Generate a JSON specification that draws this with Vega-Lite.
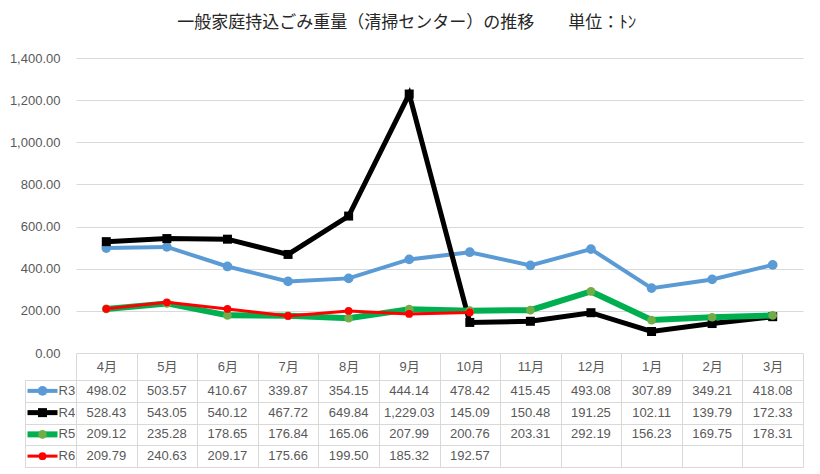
{
  "$schema": "https://vega.github.io/schema/vega-lite/v6.json",
  "padding": {"left": 9, "top": 14, "right": 5, "bottom": 5},
  "background": "white",
  "title": {
    "text": "一般家庭持込ごみ重量（清掃センター）の推移　　単位：ﾄﾝ",
    "font": "Noto Sans CJK JP",
    "fontSize": 17,
    "fontWeight": "normal",
    "color": "#262626",
    "anchor": "middle",
    "offset": 20
  },
  "datasets": {
    "values": [
      {"month": "4月", "series": "R3", "value": 498.02},
      {"month": "5月", "series": "R3", "value": 503.57},
      {"month": "6月", "series": "R3", "value": 410.67},
      {"month": "7月", "series": "R3", "value": 339.87},
      {"month": "8月", "series": "R3", "value": 354.15},
      {"month": "9月", "series": "R3", "value": 444.14},
      {"month": "10月", "series": "R3", "value": 478.42},
      {"month": "11月", "series": "R3", "value": 415.45},
      {"month": "12月", "series": "R3", "value": 493.08},
      {"month": "1月", "series": "R3", "value": 307.89},
      {"month": "2月", "series": "R3", "value": 349.21},
      {"month": "3月", "series": "R3", "value": 418.08},
      {"month": "4月", "series": "R4", "value": 528.43},
      {"month": "5月", "series": "R4", "value": 543.05},
      {"month": "6月", "series": "R4", "value": 540.12},
      {"month": "7月", "series": "R4", "value": 467.72},
      {"month": "8月", "series": "R4", "value": 649.84},
      {"month": "9月", "series": "R4", "value": 1229.03},
      {"month": "10月", "series": "R4", "value": 145.09},
      {"month": "11月", "series": "R4", "value": 150.48},
      {"month": "12月", "series": "R4", "value": 191.25},
      {"month": "1月", "series": "R4", "value": 102.11},
      {"month": "2月", "series": "R4", "value": 139.79},
      {"month": "3月", "series": "R4", "value": 172.33},
      {"month": "4月", "series": "R5", "value": 209.12},
      {"month": "5月", "series": "R5", "value": 235.28},
      {"month": "6月", "series": "R5", "value": 178.65},
      {"month": "7月", "series": "R5", "value": 176.84},
      {"month": "8月", "series": "R5", "value": 165.06},
      {"month": "9月", "series": "R5", "value": 207.99},
      {"month": "10月", "series": "R5", "value": 200.76},
      {"month": "11月", "series": "R5", "value": 203.31},
      {"month": "12月", "series": "R5", "value": 292.19},
      {"month": "1月", "series": "R5", "value": 156.23},
      {"month": "2月", "series": "R5", "value": 169.75},
      {"month": "3月", "series": "R5", "value": 178.31},
      {"month": "4月", "series": "R6", "value": 209.79},
      {"month": "5月", "series": "R6", "value": 240.63},
      {"month": "6月", "series": "R6", "value": 209.17},
      {"month": "7月", "series": "R6", "value": 175.66},
      {"month": "8月", "series": "R6", "value": 199.50},
      {"month": "9月", "series": "R6", "value": 185.32},
      {"month": "10月", "series": "R6", "value": 192.57}
    ],
    "series": [
      {"series": "R3"},
      {"series": "R4"},
      {"series": "R5"},
      {"series": "R6"}
    ]
  },
  "columns": 2,
  "align": "each",
  "bounds": "flush",
  "spacing": {"row": 27, "column": 0},
  "concat": [
    {
      "width": 51,
      "height": 295,
      "data": {"name": "series"},
      "mark": {"type": "text", "opacity": 0},
      "encoding": {}
    },
    {
      "width": 727,
      "height": 295,
      "data": {"name": "values"},
      "encoding": {
        "x": {
          "field": "month",
          "type": "nominal",
          "sort": ["4月", "5月", "6月", "7月", "8月", "9月", "10月", "11月", "12月", "1月", "2月", "3月"],
          "axis": null
        },
        "y": {
          "field": "value",
          "type": "quantitative",
          "scale": {"domain": [0, 1400], "nice": false},
          "axis": {
            "values": [0, 200, 400, 600, 800, 1000, 1200, 1400],
            "format": ",.2f",
            "title": null,
            "domain": false,
            "ticks": false,
            "labelPadding": 16,
            "grid": true,
            "gridColor": "#d9d9d9"
          }
        }
      },
      "layer": [
        {"transform": [{"filter": "datum.series === 'R3'"}], "mark": {"type": "line", "color": "#5B9BD5", "strokeWidth": 4}},
        {"transform": [{"filter": "datum.series === 'R3'"}], "mark": {"type": "point", "shape": "circle", "filled": true, "opacity": 1, "color": "#5B9BD5", "size": 95}},
        {"transform": [{"filter": "datum.series === 'R4'"}], "mark": {"type": "line", "color": "#000000", "strokeWidth": 5}},
        {"transform": [{"filter": "datum.series === 'R4'"}], "mark": {"type": "point", "shape": "square", "filled": true, "opacity": 1, "color": "#000000", "size": 81}},
        {"transform": [{"filter": "datum.series === 'R5'"}], "mark": {"type": "line", "color": "#00B050", "strokeWidth": 6}},
        {"transform": [{"filter": "datum.series === 'R5'"}], "mark": {"type": "point", "shape": "circle", "filled": true, "opacity": 1, "color": "#70AD47", "size": 75}},
        {"transform": [{"filter": "datum.series === 'R6'"}], "mark": {"type": "line", "color": "#FF0000", "strokeWidth": 3}},
        {"transform": [{"filter": "datum.series === 'R6'"}], "mark": {"type": "point", "shape": "circle", "filled": true, "opacity": 1, "color": "#FF0000", "size": 60}}
      ]
    },
    {
      "width": 51,
      "height": 87,
      "data": {"name": "series"},
      "view": {"stroke": "#d9d9d9"},
      "encoding": {
        "y": {
          "field": "series",
          "type": "nominal",
          "sort": ["R3", "R4", "R5", "R6"],
          "scale": {"type": "band", "paddingInner": 0, "paddingOuter": 0},
          "axis": {"title": null, "labels": false, "ticks": false, "domain": false, "grid": true, "tickBand": "extent", "gridColor": "#d9d9d9"}
        }
      },
      "layer": [
        {
          "mark": {"type": "point", "shape": "M-1,0H1", "filled": false, "opacity": 1, "size": 900, "xOffset": -8},
          "encoding": {
            "color": {"field": "series", "type": "nominal", "scale": {"domain": ["R3", "R4", "R5", "R6"], "range": ["#5B9BD5", "#000000", "#00B050", "#FF0000"]}, "legend": null},
            "strokeWidth": {"field": "series", "type": "nominal", "scale": {"type": "ordinal", "domain": ["R3", "R4", "R5", "R6"], "range": [4, 5, 6, 3]}, "legend": null}
          }
        },
        {
          "mark": {"type": "point", "filled": true, "opacity": 1, "xOffset": -8},
          "encoding": {
            "fill": {"field": "series", "type": "nominal", "scale": {"domain": ["R3", "R4", "R5", "R6"], "range": ["#5B9BD5", "#000000", "#70AD47", "#FF0000"]}, "legend": null},
            "shape": {"field": "series", "type": "nominal", "scale": {"domain": ["R3", "R4", "R5", "R6"], "range": ["circle", "square", "circle", "circle"]}, "legend": null},
            "size": {"field": "series", "type": "nominal", "scale": {"type": "ordinal", "domain": ["R3", "R4", "R5", "R6"], "range": [95, 81, 75, 60]}, "legend": null}
          }
        },
        {
          "mark": {"type": "text", "align": "left", "dx": 8, "fontSize": 13, "color": "#595959", "font": "Liberation Sans"},
          "encoding": {"text": {"field": "series", "type": "nominal"}}
        }
      ]
    },
    {
      "width": 727,
      "height": 87,
      "data": {"name": "values"},
      "view": {"stroke": "#d9d9d9"},
      "mark": {"type": "text", "fontSize": 13, "color": "#595959", "font": "Liberation Sans"},
      "encoding": {
        "x": {
          "field": "month",
          "type": "nominal",
          "sort": ["4月", "5月", "6月", "7月", "8月", "9月", "10月", "11月", "12月", "1月", "2月", "3月"],
          "scale": {"type": "band", "paddingInner": 0, "paddingOuter": 0},
          "axis": {
            "orient": "top",
            "title": null,
            "tickBand": "extent",
            "ticks": true,
            "tickSize": 27,
            "tickColor": "#d9d9d9",
            "domain": true,
            "domainColor": "#d9d9d9",
            "grid": true,
            "gridColor": "#d9d9d9",
            "labelAngle": 0,
            "labelBaseline": "middle",
            "labelPadding": -13.5
          }
        },
        "y": {
          "field": "series",
          "type": "nominal",
          "sort": ["R3", "R4", "R5", "R6"],
          "scale": {"type": "band", "paddingInner": 0, "paddingOuter": 0},
          "axis": {"title": null, "labels": false, "ticks": false, "domain": false, "grid": true, "tickBand": "extent", "gridColor": "#d9d9d9"}
        },
        "text": {"field": "value", "type": "quantitative", "format": ",.2f"}
      }
    }
  ],
  "config": {
    "view": {"stroke": null},
    "axis": {
      "labelFont": "Liberation Sans, Noto Sans CJK JP",
      "labelFontSize": 13,
      "labelColor": "#595959"
    }
  }
}
